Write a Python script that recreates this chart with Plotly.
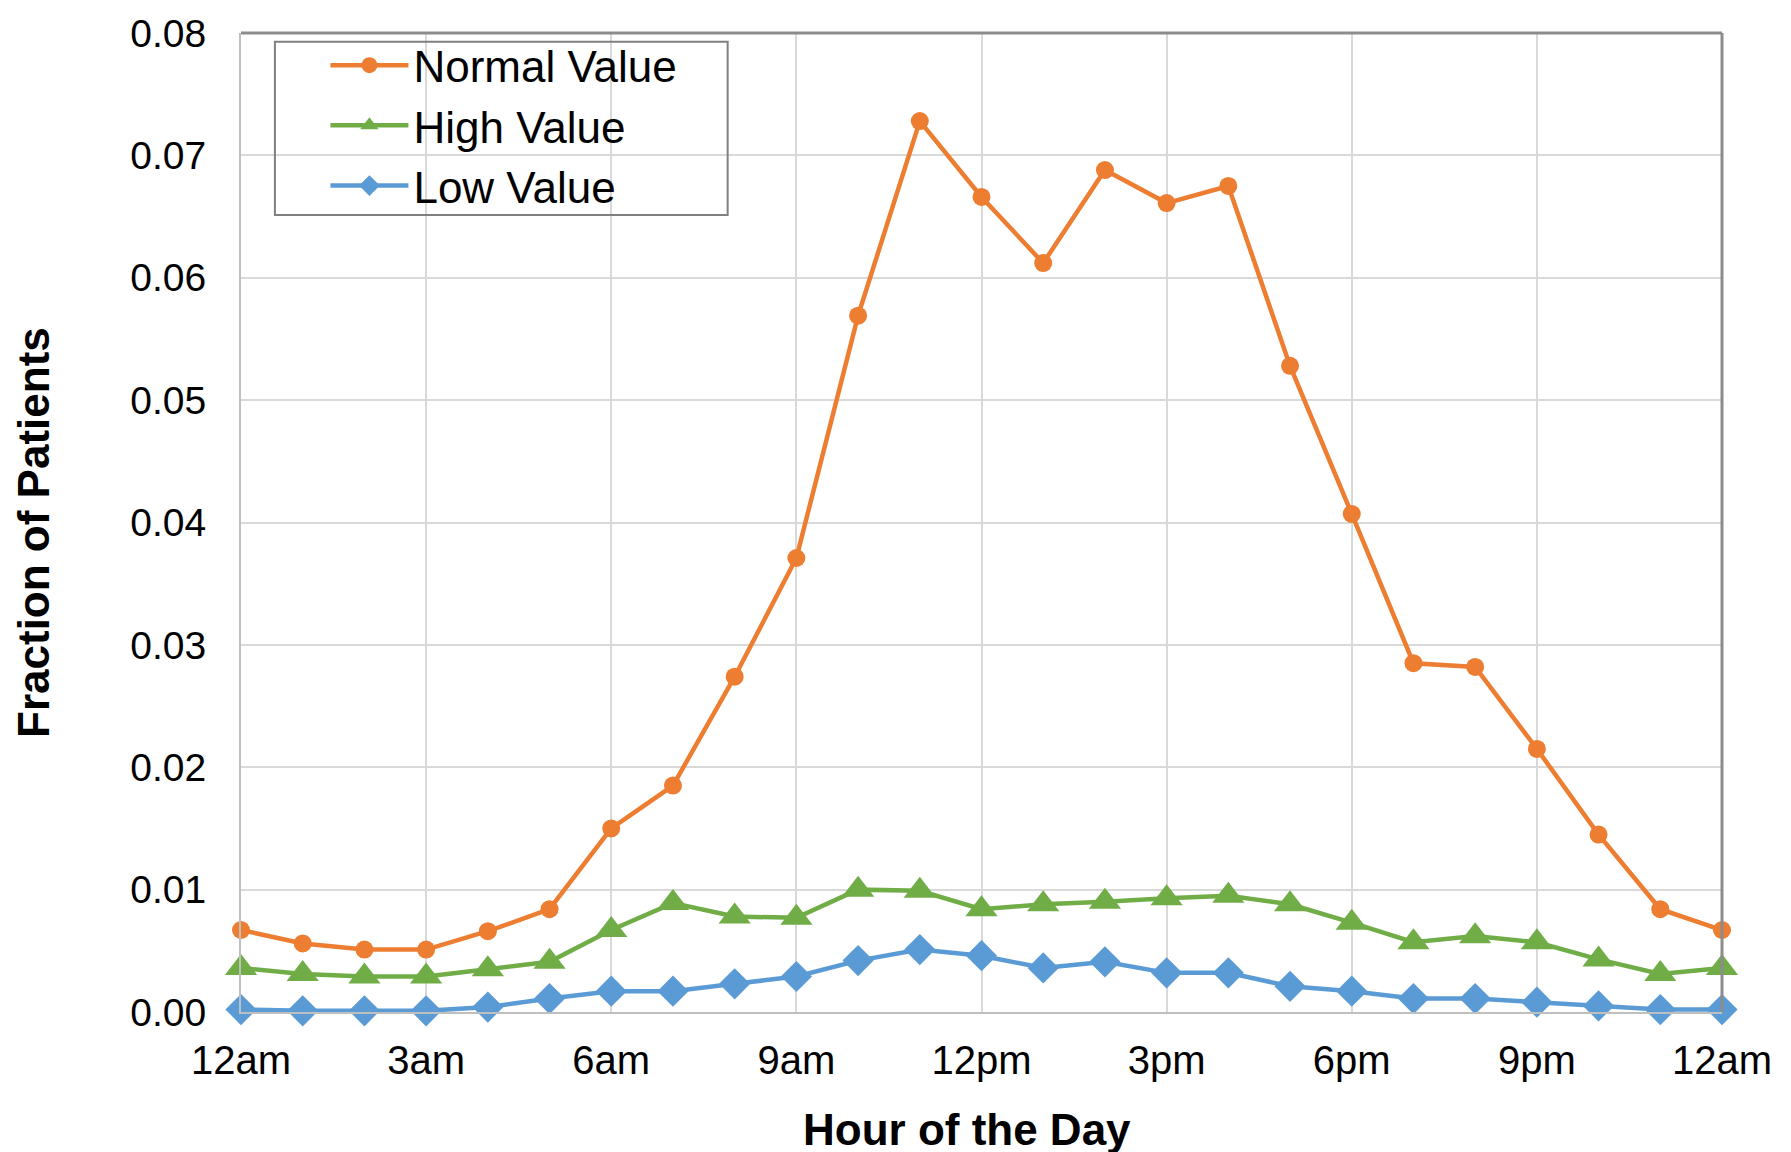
import plotly.graph_objects as go

hours = list(range(25))
tick_vals = [0, 3, 6, 9, 12, 15, 18, 21, 24]
tick_text = ["12am", "3am", "6am", "9am", "12pm", "3pm", "6pm", "9pm", "12am"]

normal_value = [0.0067, 0.0056, 0.0051, 0.0051, 0.0066, 0.0084, 0.0150, 0.0185, 0.0274,
                0.0371, 0.0569, 0.0728, 0.0666, 0.0612, 0.0688, 0.0661, 0.0675, 0.0528,
                0.0407, 0.0285, 0.0282, 0.0215, 0.0145, 0.0084, 0.0067]
high_value = [0.0036, 0.0031, 0.0029, 0.0029, 0.0035, 0.0041, 0.0067, 0.0089, 0.0078,
              0.0077, 0.0100, 0.0099, 0.0084, 0.0088, 0.0090, 0.0093, 0.0095, 0.0088,
              0.0073, 0.0057, 0.0062, 0.0057, 0.0043, 0.0031, 0.0036]
low_value = [0.0002, 0.0001, 0.0001, 0.0001, 0.0004, 0.0011, 0.0017, 0.0017, 0.0023,
             0.0029, 0.0042, 0.0051, 0.0046, 0.0036, 0.0041, 0.0032, 0.0032, 0.0021,
             0.0017, 0.0011, 0.0011, 0.0008, 0.0005, 0.0002, 0.0002]

FONT = "Arial, Liberation Sans, sans-serif"

fig = go.Figure()
fig.add_trace(go.Scatter(x=hours, y=normal_value, name="Normal Value", mode="lines+markers",
                         line=dict(color="#ED7D31", width=4.5),
                         marker=dict(symbol="circle", size=18, color="#ED7D31"),
                         cliponaxis=False))
fig.add_trace(go.Scatter(x=hours, y=high_value, name="High Value", mode="lines+markers",
                         line=dict(color="#70AD47", width=4.5),
                         marker=dict(symbol="triangle-up", size=28, color="#70AD47"),
                         cliponaxis=False))
fig.add_trace(go.Scatter(x=hours, y=low_value, name="Low Value", mode="lines+markers",
                         line=dict(color="#5B9BD5", width=4.5),
                         marker=dict(symbol="diamond", size=24, color="#5B9BD5"),
                         cliponaxis=False))

fig.update_layout(
    width=1791, height=1152,
    margin=dict(l=233, r=77, t=25, b=148, autoexpand=False),
    paper_bgcolor="white", plot_bgcolor="white",
    font=dict(family=FONT, color="black"),
    showlegend=True,
    legend=dict(x=0.057, y=1.003, xanchor="left", yanchor="top",
                bgcolor="rgba(0,0,0,0)", borderwidth=0,
                font=dict(size=44, family=FONT, color="black"),
                tracegroupgap=0, itemwidth=78),
    xaxis=dict(range=[0, 24], tickmode="array", tickvals=tick_vals, ticktext=tick_text,
               showgrid=True, gridcolor="#D9D9D9", gridwidth=2,
               showline=True, linecolor="#BFBFBF", linewidth=2,
               ticks="", ticklabelstandoff=12, automargin=False, ticklabeloverflow="allow",
               tickfont=dict(size=40, family=FONT, color="black"), zeroline=False),
    yaxis=dict(range=[0, 0.08], dtick=0.01, tickformat=".2f",
               showgrid=True, gridcolor="#D9D9D9", gridwidth=2,
               showline=True, linecolor="#BFBFBF", linewidth=2,
               ticks="", ticklabelstandoff=25, automargin=False, ticklabeloverflow="allow",
               tickfont=dict(size=39, family=FONT, color="black"), zeroline=False),
    annotations=[
        dict(text="<b>Hour of the Day</b>", xref="paper", yref="paper", x=0.49, y=-0.12,
             xanchor="center", yanchor="middle", showarrow=False,
             font=dict(size=44, family=FONT, color="black")),
        dict(text="<b>Fraction of Patients</b>", xref="paper", yref="paper", x=-0.140, y=0.49,
             xanchor="center", yanchor="middle", showarrow=False, textangle=-90,
             font=dict(size=44, family=FONT, color="black")),
    ],
    shapes=[
        dict(type="line", xref="paper", yref="paper", x0=0, x1=1, y0=1, y1=1,
             line=dict(color="#8C8C8C", width=3)),
        dict(type="line", xref="paper", yref="paper", x0=1, x1=1, y0=0, y1=1,
             line=dict(color="#8C8C8C", width=3)),
        dict(type="rect", xref="paper", yref="paper", x0=0.0229, x1=0.3286, y0=0.814, y1=0.991,
             line=dict(color="#808080", width=2), fillcolor="rgba(0,0,0,0)", layer="above"),
    ],
)

fig.write_html("out.html")
